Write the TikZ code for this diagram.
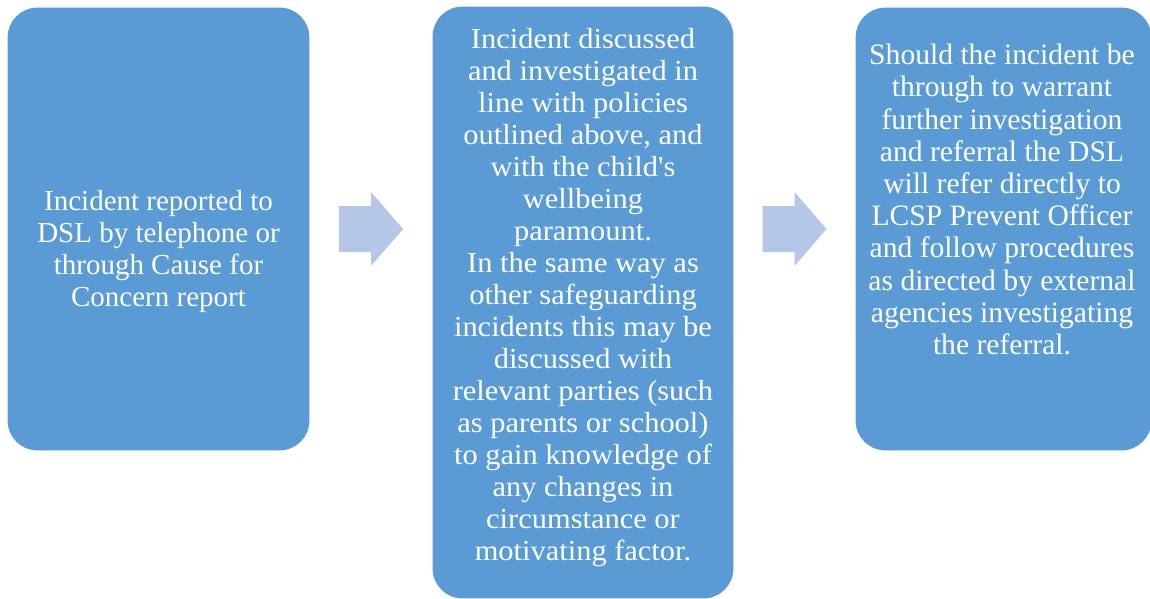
\documentclass[tikz,border=0pt]{standalone}
\usepackage{fontspec}
\setmainfont{Liberation Serif}
\newfontfamily\widefont[FakeStretch=1.05]{Liberation Serif}
\usetikzlibrary{positioning,calc}
\definecolor{boxblue}{HTML}{5B9BD5}
\definecolor{arrowblue}{HTML}{B4C7E7}

\begin{document}
\begin{tikzpicture}[x=0.5pt, y=-0.5pt,
  box/.style={fill=boxblue, draw=white, line width=0.6pt, rounded corners=15pt, inner sep=0pt},
  txt/.style={text=white, align=center, inner sep=0pt, font=\fontsize{14.5}{16}\selectfont}]

\useasboundingbox (0,0) rectangle (1150,599);
\fill[white] (0,0) rectangle (1150,599);

% the three steps
\node[box, minimum width=151.5pt, minimum height=222pt] (report) at (158.5,229) {};
\node[box, minimum width=151pt, minimum height=296.5pt] (discuss) at (583,302.5) {};
\node[box, minimum width=148.5pt, minimum height=222pt] (refer) at (1003.5,229) {};

\node[txt] (reporttext) at (158.5,252) {Incident reported to\\DSL by telephone or\\through Cause for\\Concern report};

\node[txt, font=\widefont\fontsize{14.5}{16}\selectfont] (discusstext) at (583,298)
  {Incident discussed\\and investigated in\\line with policies\\outlined above, and\\with the child's\\wellbeing\\paramount.\\
   In the same way as\\other safeguarding\\incidents this may be\\discussed with\\relevant parties (such\\as parents or school)\\
   to gain knowledge of\\any changes in\\circumstance or\\motivating factor.};

\node[txt, font=\fontsize{14.8}{16.1}\selectfont] (refertext) at (1002,199.5) {Should the incident be\\through to warrant\\further investigation\\and referral the DSL\\will refer directly to\\
  LCSP Prevent Officer\\and follow procedures\\as directed by external\\agencies investigating\\the referral.};

% block arrows between the steps
\coordinate (a1) at ($(report.east)!0.5!(discuss.west |- report.east)$);
\coordinate (a2) at ($(discuss.east |- refer.west)!0.5!(refer.west)$);
\foreach \c in {a1,a2}
  \fill[arrowblue] ($(\c)+(-32,-23)$) -- ++(32,0) -- ++(0,-14) -- ++(32,37)
    -- ++(-32,37) -- ++(0,-14) -- ++(-32,0) -- cycle;

\end{tikzpicture}
\end{document}
